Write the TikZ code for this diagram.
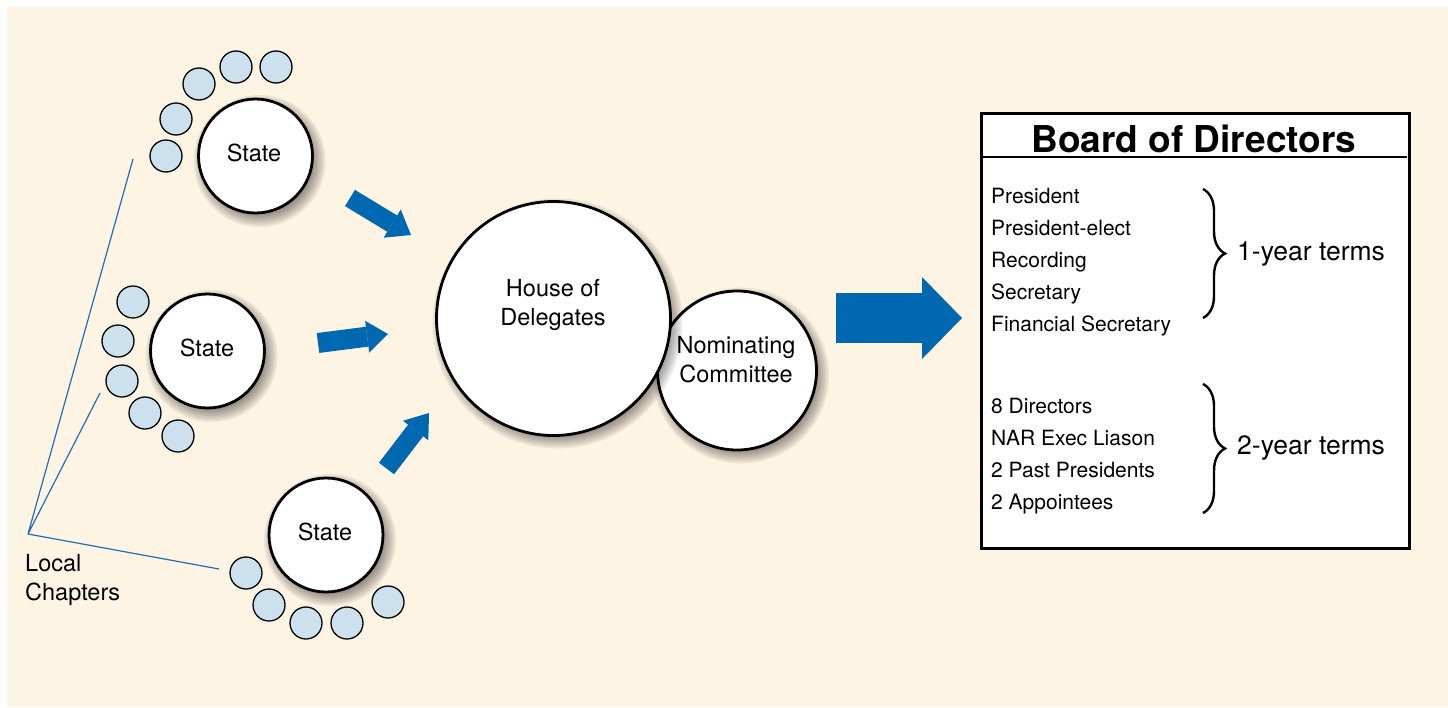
\documentclass[tikz,border=0pt]{standalone}
\usepackage{fontspec}
\setmainfont{TeX Gyre Heros}
\usetikzlibrary{arrows.meta,decorations.pathreplacing,calc}
\definecolor{cream}{HTML}{FEF4E4}
\definecolor{arrowblue}{HTML}{0067B1}
\definecolor{chapterblue}{HTML}{CDE0EE}
\definecolor{lineblue}{HTML}{1F6FB6}
\tikzset{
  bigcirc/.style={circle, draw=black, fill=white, line width=2.8pt, inner sep=0pt},
  shadowring/.style={fill=black, opacity=0.065},
  chapter/.style={circle, draw=black, fill=chapterblue, line width=1.3pt, inner sep=0pt, minimum size=32pt},
  circtext/.style={font=\fontsize{23.5}{29}\selectfont, align=center, inner sep=0pt},
  listtext/.style={font=\fontsize{21}{32}\selectfont, inner sep=0pt, anchor=base west},
  termtext/.style={font=\fontsize{26.5}{32}\selectfont, inner sep=0pt, anchor=base west},
  fat/.style={draw=arrowblue, line width=#1},
  chline/.style={draw=lineblue, line width=1.2pt},
  bracestyle/.style={decorate, decoration={brace, amplitude=22pt}, line width=2.4pt}
}
\newcommand\softshadow[2]{%
  \foreach \k in {0,...,8}
    \fill[shadowring] ($#1+(4,5)$) circle[radius={#2+8-2*\k}];
}
\begin{document}
\begin{tikzpicture}[x=1pt,y=-1pt]
\useasboundingbox (0,0) rectangle (1448,707);
\fill[white] (0,0) rectangle (1448,707);
\fill[cream] (7,7) rectangle (1448,707);

% local chapter lines
\coordinate (lc) at (28,534);
\coordinate (l1) at (133,159);
\coordinate (l2) at (100,393);
\coordinate (l3) at (219,569);
\draw[chline] (l1) -- (lc) -- (l2);
\draw[chline] (lc) -- (l3);
\node[font=\fontsize{23.5}{29}\selectfont, align=left, anchor=base west, inner sep=0pt] (loc) at (25,600) {Local\\Chapters};

% chapters
\foreach \p [count=\i] in {(166,156),(176,119),(199,84),(236,67),(276,67)}
  \node[chapter] (ca\i) at \p {};
\foreach \p [count=\i] in {(133,302),(118,341),(122,381),(145,413),(178,436)}
  \node[chapter] (cb\i) at \p {};
\foreach \p [count=\i] in {(246,573),(269,605),(306,623),(347,623),(388,602)}
  \node[chapter] (cc\i) at \p {};

% states
\softshadow{(255.5,156)}{58}
\node[bigcirc, minimum size=114pt] (s1) at (255.5,156) {};
\node[circtext] (s1t) at (254,153) {State};
\softshadow{(207.5,351)}{58}
\node[bigcirc, minimum size=114pt] (s2) at (207.5,351) {};
\node[circtext] (s2t) at (207,348) {State};
\softshadow{(326,535)}{58}
\node[bigcirc, minimum size=114pt] (s3) at (326,535) {};
\node[circtext] (s3t) at (325,532) {State};

% small arrows
\coordinate (a1t) at (350,198); \coordinate (a1h) at (411,235);
\coordinate (a2t) at (318,343); \coordinate (a2h) at (388,334);
\coordinate (a3t) at (386.5,468.5); \coordinate (a3h) at (429,413);
\draw[fat=19pt, -{Triangle[width=33pt,length=22pt,line width=0pt]}] (a1t) -- (a1h);
\draw[fat=20pt, -{Triangle[width=32pt,length=21pt,line width=0pt]}] (a2t) -- (a2h);
\draw[fat=19pt, -{Triangle[width=32pt,length=22pt,line width=0pt]}] (a3t) -- (a3h);

% nominating committee and house
\softshadow{(737,370.5)}{80}
\node[bigcirc, minimum size=159pt] (nom) at (737,370.5) {};
\node[circtext] (nomt) at (736,360) {Nominating\\Committee};
\softshadow{(553.5,318.5)}{117}
\node[bigcirc, minimum size=234pt] (house) at (553.5,318.5) {};
\node[circtext] (houset) at (553,305) {House of\\Delegates};

% big arrow
\coordinate (bt) at (836,318); \coordinate (bh) at (962,318);
\draw[fat=50pt, -{Triangle[width=82pt,length=40pt,line width=0pt]}] (bt) -- (bh);

% board
\node[draw=black, fill=white, line width=2.5pt, minimum width=428pt, minimum height=435pt, anchor=north west, inner sep=0pt] (board) at (980,112) {};
\coordinate (hl) at (980,157); \coordinate (hr) at (1407,157);
\draw[line width=2.5pt] (hl) -- (hr);
\node[font=\fontsize{37}{40}\selectfont\bfseries, anchor=base, inner sep=0pt] (title) at (1194,152) {Board of Directors};

\foreach \t [count=\i] in {President, President-elect, Recording, Secretary, Financial Secretary}
  \node[listtext] (pa\i) at (991,171+32*\i) {\t};
\foreach \t [count=\i] in {8 Directors, NAR Exec Liason, 2 Past Presidents, 2 Appointees}
  \node[listtext] (pb\i) at (991,381+32*\i) {\t};

\coordinate (b1a) at (1203,189); \coordinate (b1b) at (1203,318);
\coordinate (b2a) at (1203,384); \coordinate (b2b) at (1203,513);
\draw[bracestyle] (b1a) -- (b1b);
\draw[bracestyle] (b2a) -- (b2b);
\node[termtext] (t1) at (1237,260) {1-year terms};
\node[termtext] (t2) at (1237,454) {2-year terms};
\end{tikzpicture}
\end{document}
